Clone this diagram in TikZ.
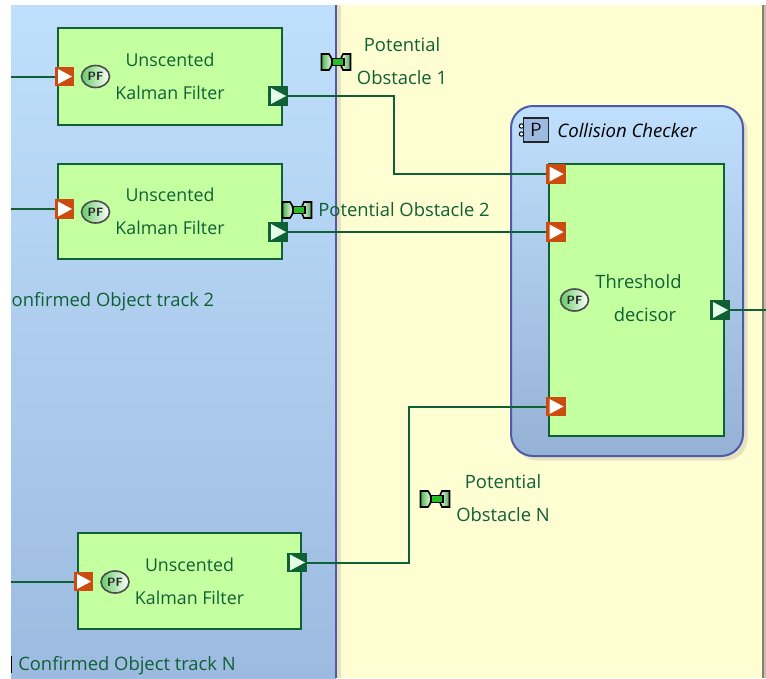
\documentclass[tikz,border=0pt]{standalone}
\usepackage{fontspec}
\usepackage{tikz}
\usetikzlibrary{shapes.geometric}
\setmainfont{Open Sans}
\definecolor{wiregreen}{HTML}{0F6035}
\definecolor{boxgreen}{HTML}{C4FFA0}
\definecolor{portorange}{HTML}{CC4C10}
\definecolor{paneltop}{HTML}{BFE0FC}
\definecolor{panelbot}{HTML}{9DBAE0}
\definecolor{panelline}{HTML}{4F5AA8}
\definecolor{paper}{HTML}{FFFDD2}
\definecolor{paperedge}{HTML}{E6E2C0}
\definecolor{rimbrown}{HTML}{8F7F5F}

\begin{document}
\begin{tikzpicture}[x=1pt,y=-1pt]
            \tikzstyle{every node}=[inner sep=0pt, font=\fontsize{18.4}{33}\selectfont, text=wiregreen];
            \tikzstyle{filterbox}=[draw=wiregreen, line width=2pt, fill=boxgreen, align=center, minimum width=224pt, minimum height=97pt, font=\fontsize{17.8}{33}\selectfont];
            \tikzstyle{inport}=[minimum size=19.5pt, fill=portorange, path picture={
                \fill[white] ([xshift=-6.5pt,yshift=7.5pt]path picture bounding box.center) -- ([xshift=7.5pt]path picture bounding box.center) -- ([xshift=-6.5pt,yshift=-7.5pt]path picture bounding box.center) -- cycle;}];
            \tikzstyle{outport}=[minimum size=19.5pt, fill=wiregreen, path picture={
                \fill[white!90!green] ([xshift=-7pt,yshift=8pt]path picture bounding box.center) -- ([xshift=8pt]path picture bounding box.center) -- ([xshift=-7pt,yshift=-8pt]path picture bounding box.center) -- cycle;}];
            \tikzstyle{pfbadge}=[draw=black!70, line width=1.6pt, ellipse, minimum width=28pt, minimum height=22pt, left color=green!50!gray!80, right color=white,
                font=\fontsize{12}{12}\selectfont\bfseries\sffamily, text=black!85];
            \tikzstyle{wire}=[draw=wiregreen, line width=2pt];
            \tikzstyle{label}=[align=center];

            \tikzset{
                obstacleicon/.pic={
                    \draw[black, line width=1.6pt, left color=green!60!black!70, right color=white] (-14.5,-8) -- (-7,-8) .. controls (-3,-4) and (-3,4) .. (-7,8) -- (-14.5,8) -- cycle;
                    \draw[black, line width=1.6pt, left color=white, right color=green!50!black!70] (14.5,-8) -- (7,-8) .. controls (4,-4) and (4,4) .. (7,8) -- (14.5,8) -- cycle;
                    \draw[black, line width=1.2pt, fill=green!70!black!85] (-4,-3.5) rectangle (8,3.5);
                }
            }

            % backgrounds
            \useasboundingbox (0,0) rectangle (766,678);
            \fill[white] (0,0) rectangle (766,678);
            \fill[paper] (336,5) rectangle (762,678);
            \fill[paperedge] (337,5) rectangle (340.5,678);
            \fill[rimbrown] (762,5) rectangle (764,678);
            \fill[black!25] (764,5) rectangle (766,678);
            \shade[top color=paneltop, bottom color=panelbot] (11,5) rectangle (336,678);
            \draw[panelline, line width=2pt] (336,5) -- (336,678);

            % collision checker
            \fill[paperedge, rounded corners=22pt] (515,110) rectangle (747.5,460.5);
            \shade[top color=paneltop, bottom color=panelbot!95!black, rounded corners=22pt] (511,106) rectangle (743,456);
            \draw[panelline, line width=2pt, rounded corners=22pt] (511,106) rectangle (743,456);
            \node[draw=black!85, line width=1.2pt, fill=panelbot, minimum width=25pt, minimum height=24pt, text=black, font=\fontsize{19}{19}\selectfont\sffamily] (picon) at (536,130) {P};
            \foreach \i in {-4,4}
                \draw[black, line width=1pt, fill=white] (521.5,130+\i) circle (2.2pt);
            \node[text=black, font=\fontsize{18.6}{19}\selectfont\itshape] (checker) at (627,130.5) {Collision Checker};

            % boxes
            \node[filterbox] (filter1) at (170,76) {Unscented\\Kalman Filter};
            \node[filterbox, minimum height=95pt] (filter2) at (170,211.5) {Unscented\\Kalman Filter};
            \node[filterbox, minimum width=223pt, minimum height=96pt] (filter3) at (189.5,581) {Unscented\\Kalman Filter};
            \node[filterbox, minimum width=175pt, minimum height=272pt] (decisor) at (636.5,300) {};

            % ports
            \node[inport] (in1) at (64.5,76.5) {};
            \node[inport] (in2) at (64.5,209) {};
            \node[inport] (in3) at (83.5,581.5) {};
            \node[outport] (out1) at (278,96) {};
            \node[outport] (out2) at (278,232) {};
            \node[outport] (out3) at (297,562.5) {};
            \node[inport] (check1) at (556,174) {};
            \node[inport] (check2) at (556,232) {};
            \node[inport] (check3) at (556,406.5) {};
            \node[outport] (result) at (720,310) {};

            \node[pfbadge] (pf1) at (95.5,76.5) {PF};
            \node[pfbadge] (pf2) at (95.5,212) {PF};
            \node[pfbadge] (pf3) at (115,582) {PF};
            \node[pfbadge] (pf4) at (574.5,300) {PF};

            % labels
            \node[label] (thresh) at (638.5,298.5) {Threshold\\\hspace{13pt}decisor};
            \node[label] (obst1) at (402,61.5) {Potential\\Obstacle 1};
            \node[label] (obst2) at (404,210) {Potential Obstacle 2};
            \node[label] (obstN) at (503,498.5) {Potential\\Obstacle N};
            \node[label] (track2) at (113,302) {onfirmed Object track 2};
            \node[label] (trackN) at (127,665.5) {Confirmed Object track N};
            \pic at (336,62) {obstacleicon};
            \pic at (297,210) {obstacleicon};
            \pic at (435,499) {obstacleicon};
            \fill[black] (11,656) rectangle (12,673);

            % free ends
            \coordinate (left1) at (11,76.5);
            \coordinate (left2) at (11,209);
            \coordinate (left3) at (11,581.5);
            \coordinate (right) at (766,310);

            % wires
            \draw[wire] (left1) -- (in1.west);
            \draw[wire] (left2) -- (in2.west);
            \draw[wire] (left3) -- (in3.west);
            \draw[wire] (out1.east) -- (394,96) -- (394,174) -- (check1.west);
            \draw[wire] (out2.east) -- (check2.west);
            \draw[wire] (out3.east) -- (409,562.5) -- (409,406.5) -- (check3.west);
            \draw[wire] (result.east) -- (right);
        \end{tikzpicture}
\end{document}
